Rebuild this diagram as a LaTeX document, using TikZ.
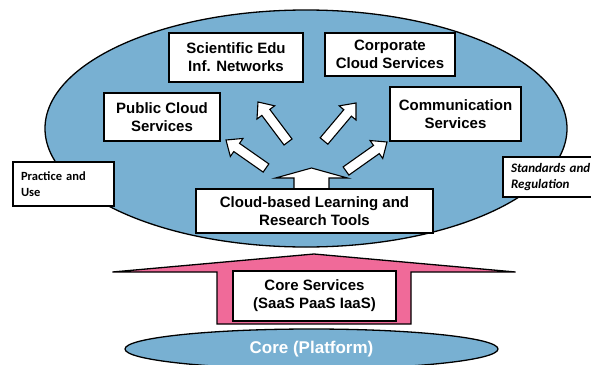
\documentclass[tikz,border=0pt]{standalone}
\usepackage{fontspec}
\setmainfont{Liberation Sans}
\newfontfamily\calfont{Carlito}
\usetikzlibrary{calc,shapes.geometric}

\definecolor{cloudblue}{RGB}{120,176,210}
\definecolor{corepink}{RGB}{240,106,153}

% block arrow from #2 to #3: shaft half width #4, head half width #5, head length #6
\newcommand{\blockarrow}[6][]{%
	\coordinate (hb) at ($(#3)!#6!(#2)$);
	\draw[#1] ($(#2)!#4!90:(#3)$) -- ($(hb)!#4!-90:(#2)$) -- ($(hb)!#5!-90:(#2)$)
	-- (#3) -- ($(hb)!#5!90:(#2)$) -- ($(hb)!#4!90:(#2)$) -- ($(#2)!#4!-90:(#3)$) -- cycle;
}

\begin{document}
\begin{tikzpicture}[x=1pt,y=-1pt,
		box/.style={draw,fill=white,line width=1.3pt,inner sep=0pt,align=center,
			font=\bfseries\fontsize{15}{18}\selectfont},
		sidebox/.style={draw,fill=white,line width=1.3pt,inner sep=0pt,align=left,
			font=\calfont\bfseries\fontsize{12.5}{16}\selectfont},
		whitearrow/.style={draw,fill=white,line width=1.1pt,line join=miter},
		pinkarrow/.style={draw,fill=corepink,line width=1.3pt,line join=miter}
		]
		\useasboundingbox (0,0) rectangle (591,364);

		\node[ellipse,draw,fill=cloudblue,line width=1.3pt,minimum width=522pt,
		minimum height=237pt](Cloud) at (306,128.5){};

		% white arrows out of the learning tools box
		\coordinate (T0) at (311.5,190);   \coordinate (H0) at (311.5,168);
		\coordinate (T1) at (266,168);     \coordinate (H1) at (226,140);
		\coordinate (T2) at (288,142);     \coordinate (H2) at (258,102);
		\coordinate (T3) at (324,141);     \coordinate (H3) at (356,103);
		\coordinate (T4) at (346,171);     \coordinate (H4) at (387,142);
		\blockarrow[whitearrow]{T0}{H0}{17.5pt}{36pt}{10pt}
		\foreach \i in {1,...,4}
			{\blockarrow[whitearrow]{T\i}{H\i}{5pt}{11pt}{13pt}}

		\node[box,minimum width=134pt,minimum height=49pt](Sci) at (236,57.5)
		{Scientific Edu\\Inf. Networks};
		\node[box,minimum width=130pt,minimum height=43pt](Corp) at (390,54.5)
		{Corporate\\Cloud Services};
		\node[box,minimum width=116pt,minimum height=48pt](Pub) at (162,117)
		{Public Cloud\\Services};
		\node[box,minimum width=131pt,minimum height=54pt](Comm) at (455.5,114)
		{Communication\\Services};
		\node[box,minimum width=237pt,minimum height=44pt](Tools) at (314.5,211)
		{Cloud-based Learning and\\Research Tools};

		\node[sidebox,minimum width=101pt,minimum height=44pt,text width=85pt]
		(Prac) at (63.5,184){Practice and\\Use};
		\node[sidebox,minimum width=97pt,minimum height=40pt,text width=81pt,
		font=\calfont\bfseries\itshape\fontsize{13}{16}\selectfont]
		(Std) at (551.5,177){Standards and\\Regulation};

		% platform and core services
		\coordinate (T5) at (314,324);     \coordinate (H5) at (314,254);
		\blockarrow[pinkarrow]{T5}{H5}{97pt}{201.5pt}{18pt}
		\node[box,minimum width=163pt,minimum height=50pt](Core) at (314.5,296)
		{Core Services\\(SaaS PaaS IaaS)};

		\node[ellipse,draw,fill=cloudblue,line width=1.3pt,minimum width=373pt,
		minimum height=40pt,inner sep=0pt,text=white,
		font=\bfseries\fontsize{17}{20}\selectfont](Plat) at (311.5,349){Core (Platform)};
	\end{tikzpicture}
\end{document}
